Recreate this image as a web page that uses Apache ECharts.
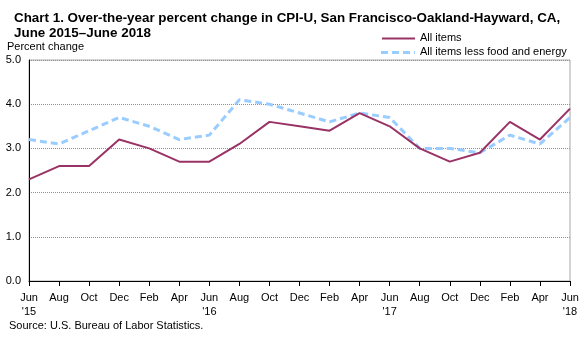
<!DOCTYPE html>
<html><head><meta charset="utf-8">
<script src="https://cdn.jsdelivr.net/npm/echarts@6/dist/echarts.min.js"></script>
<style>html,body{margin:0;padding:0;background:#fff}#c{width:587px;height:337px}</style>
</head><body><div id="c"></div>
<script>
const categories = ["Jun\n'15","Aug","Oct","Dec","Feb","Apr","Jun\n'16","Aug","Oct","Dec","Feb","Apr","Jun\n'17","Aug","Oct","Dec","Feb","Apr","Jun\n'18"];
const allItems = [2.3,2.6,2.6,3.2,3.0,2.7,2.7,3.1,3.6,3.5,3.4,3.8,3.5,3.0,2.7,2.9,3.6,3.2,3.9];
const lessFoodEnergy = [3.2,3.1,3.4,3.7,3.5,3.2,3.3,4.1,4.0,3.8,3.6,3.8,3.7,3.0,3.0,2.9,3.3,3.1,3.7];
const seriesNames = ['All items','All items less food and energy'];

const font = 'Liberation Sans, Arial, sans-serif';
const purple = '#993366', blue = '#99ccff';
const chart = echarts.init(document.getElementById('c'), null, {renderer:'canvas'});
chart.setOption({
  animation:false,
  textStyle:{fontFamily:font},
  title:{
    text:"Chart 1. Over-the-year percent change in CPI-U, San Francisco-Oakland-Hayward, CA,\nJune 2015\u2013June 2018",
    left:9, top:6,
    textStyle:{fontFamily:font, fontSize:13.4, fontWeight:'bold', color:'#000', lineHeight:15}
  },
  grid:{left:29, right:17, top:60, bottom:56, show:true, borderColor:'#a8a8a8', borderWidth:1},
  xAxis:{
    type:'category', data:categories, boundaryGap:false,
    axisLine:{lineStyle:{color:'#000', width:1}},
    axisTick:{show:true, length:5, lineStyle:{color:'#000'}},
    axisLabel:{color:'#000', fontSize:11, fontFamily:font, margin:10, interval:0, lineHeight:14},
    splitLine:{show:false}
  },
  yAxis:{
    type:'value', min:0, max:5, interval:1,
    axisLine:{show:true, lineStyle:{color:'#000', width:1}},
    axisTick:{show:false},
    axisLabel:{color:'#000', fontSize:11, fontFamily:font, margin:8, formatter:v=>v.toFixed(1)},
    splitLine:{show:true, lineStyle:{color:'#909090', type:[1,1], width:1}}
  },
  graphic:[
    {type:'text', left:7, top:41, style:{text:'Percent change', fontFamily:font, fontSize:11, fill:'#000'}},
    {type:'text', left:9, top:320, style:{text:'Source: U.S. Bureau of Labor Statistics.', fontFamily:font, fontSize:11, fill:'#000'}},
    {type:'line', shape:{x1:382, y1:38.5, x2:415, y2:38.5}, style:{stroke:purple, lineWidth:2}},
    {type:'text', left:420, top:32, style:{text:seriesNames[0], fontFamily:font, fontSize:11, fill:'#000'}},
    {type:'line', shape:{x1:381, y1:52.5, x2:415, y2:52.5}, style:{stroke:blue, lineWidth:3, lineDash:[7,4]}},
    {type:'text', left:420, top:46, style:{text:seriesNames[1], fontFamily:font, fontSize:11, fill:'#000'}}
  ],
  series:[
    {name:seriesNames[0], type:'line', data:allItems, symbol:'none', showSymbol:false,
     lineStyle:{color:purple, width:2}, itemStyle:{color:purple}, z:3},
    {name:seriesNames[1], type:'line', data:lessFoodEnergy, symbol:'none', showSymbol:false,
     lineStyle:{color:blue, width:3, type:[7,4]}, itemStyle:{color:blue}, z:2}
  ]
});
</script></body></html>
